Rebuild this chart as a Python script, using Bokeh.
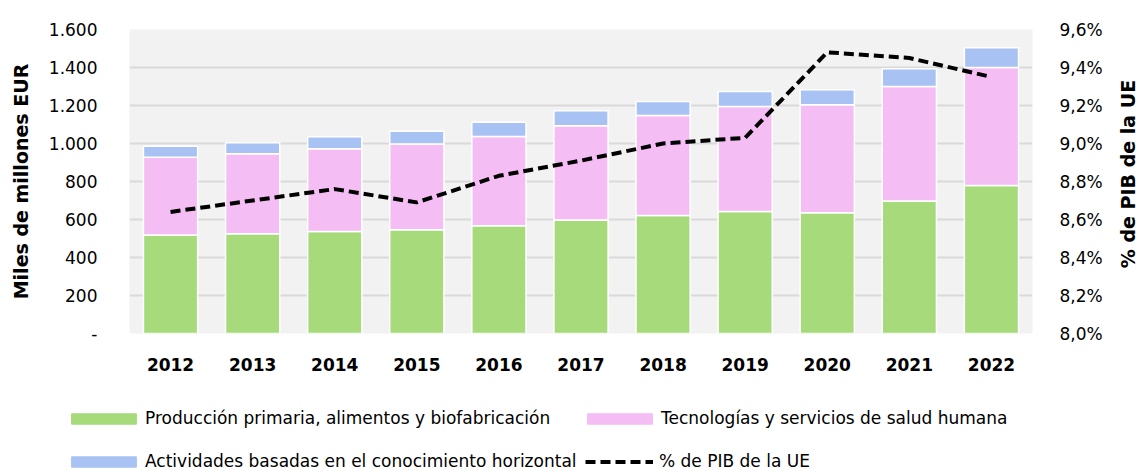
from bokeh.plotting import figure
from bokeh.layouts import column, row
from bokeh.models import (Range1d, LinearAxis, FactorRange, CustomJSTickFormatter,
                          Legend, LegendItem, FixedTicker, ColumnDataSource, Title)
from bokeh.embed import file_html
from bokeh.resources import INLINE

years = ["2012", "2013", "2014", "2015", "2016", "2017", "2018", "2019", "2020", "2021", "2022"]
primaria = [519, 525, 537, 546, 567, 598, 621, 642, 635, 698, 779]
salud = [409, 421, 435, 452, 470, 495, 526, 553, 569, 602, 621]
horizontal = [58, 58, 63, 67, 75, 80, 74, 79, 79, 93, 104]
pct_pib = [8.64, 8.70, 8.76, 8.69, 8.83, 8.91, 9.00, 9.03, 9.48, 9.45, 9.35]

labels = ["Producción primaria, alimentos y biofabricación",
          "Tecnologías y servicios de salud humana",
          "Actividades basadas en el conocimiento horizontal",
          "% de PIB de la UE"]
colors = ["#a6da7b", "#f4bdf4", "#a8c3f3"]
left_ticks = [0, 200, 400, 600, 800, 1000, 1200, 1400, 1600]
right_ticks = [8.0, 8.2, 8.4, 8.6, 8.8, 9.0, 9.2, 9.4, 9.6]

FONT = "DejaVu Sans"

src = ColumnDataSource(dict(year=years, primaria=primaria, salud=salud,
                            horizontal=horizontal, pct=pct_pib))

W, H1, H2, WR = 1105, 380, 91, 37
p = figure(width=W, height=H1, x_range=FactorRange(*years, range_padding=0),
           y_range=Range1d(0, 1600), output_backend="svg", toolbar_location=None,
           min_border_left=129, min_border_right=W - 1041, min_border_top=29,
           min_border_bottom=H1 - 333)
p.extra_y_ranges = {"pct": Range1d(8.0, 9.6)}

bars = p.vbar_stack(["primaria", "salud", "horizontal"], x="year", width=0.66, source=src,
                    color=colors, line_color="white", line_width=1.5)
line = p.line(x="year", y="pct", source=src, y_range_name="pct", line_color="black",
              line_width=4, line_dash="10 5")

p.background_fill_color = "#f2f2f2"
p.border_fill_color = "white"
p.outline_line_color = None
p.xgrid.grid_line_color = None
p.ygrid.grid_line_color = "#d9d9d9"
p.ygrid.grid_line_width = 2
p.ygrid.ticker = FixedTicker(ticks=left_ticks)

ya = p.yaxis[0]
ya.ticker = FixedTicker(ticks=left_ticks)
ya.formatter = CustomJSTickFormatter(code="""
if (tick == 0) return '-';
return Math.round(tick).toString().replace(/\\B(?=(\\d{3})+(?!\\d))/g, '.');
""")
ya.axis_label = "Miles de millones EUR"
ya.axis_label_text_font = FONT
ya.axis_label_text_font_style = "bold"
ya.axis_label_text_font_size = "19px"
ya.axis_label_text_color = "black"
ya.axis_label_standoff = 14
ya.major_label_text_font = FONT
ya.major_label_text_font_size = "17px"
ya.major_label_text_color = "black"
ya.major_label_standoff = 26
ya.axis_line_color = None
ya.major_tick_line_color = None
ya.minor_tick_line_color = None

ra = LinearAxis(y_range_name="pct", ticker=FixedTicker(ticks=right_ticks))
ra.formatter = CustomJSTickFormatter(code="return tick.toFixed(1).replace('.', ',') + '%';")
ra.major_label_text_font = FONT
ra.major_label_text_font_size = "17px"
ra.major_label_text_color = "black"
ra.major_label_standoff = 21
ra.axis_line_color = None
ra.major_tick_line_color = None
ra.minor_tick_line_color = None
p.add_layout(ra, "right")

xa = p.xaxis[0]
xa.major_label_text_font = FONT
xa.major_label_text_font_style = "bold"
xa.major_label_text_font_size = "17px"
xa.major_label_text_color = "black"
xa.major_label_standoff = 18
xa.axis_line_color = None
xa.major_tick_line_color = None
xa.minor_tick_line_color = None

# right-hand axis title (reads bottom-to-top), drawn in a narrow strip figure
rf = figure(width=WR, height=H1, x_range=Range1d(0, 1), y_range=Range1d(0, 1),
            output_backend="svg", toolbar_location=None, x_axis_location=None,
            y_axis_location=None, min_border_left=WR - 4, min_border_right=0,
            min_border_top=14, min_border_bottom=H1 - 333)
rf.outline_line_color = None
rf.grid.grid_line_color = None
rf.add_layout(Title(text="% de PIB de la UE", align="center", standoff=0,
                    text_font=FONT, text_font_size="19px", text_font_style="bold",
                    text_color="black"), "left")

# legend panel: a separate figure below the chart with hidden proxy renderers
lf = figure(width=W, height=H2, x_range=FactorRange(*years), y_range=Range1d(0, 1),
            output_backend="svg", toolbar_location=None, x_axis_location=None,
            y_axis_location=None, min_border=0)
lf.outline_line_color = None
lf.grid.grid_line_color = None
lf.background_fill_color = "white"
proxies = list(lf.vbar_stack(["primaria", "salud", "horizontal"], x="year", width=0.66,
                             source=src, color=colors, visible=False))
proxies.append(lf.line(x="year", y="pct", source=src, line_color="black",
                       line_width=4, line_dash="10 5", visible=False))

specs = [  # location, glyph width, glyph height, label standoff
    ((63, 43), 81, 13, 1),
    ((579, 43), 81, 13, 1),
    ((63, 0), 81, 13, 1),
    ((585, 0), 68, 13, 6),
]
for lab, r, (loc, gw, gh, so) in zip(labels, proxies, specs):
    lg = Legend(items=[LegendItem(label=lab, renderers=[r])], location=loc)
    lg.glyph_width = gw
    lg.glyph_height = gh
    lg.label_standoff = so
    lg.label_height = 20
    lg.padding = 0
    lg.margin = 0
    lg.spacing = 0
    lg.border_line_color = None
    lg.background_fill_alpha = 0
    lg.inactive_fill_alpha = 0
    lg.label_text_font = FONT
    lg.label_text_font_size = "17px"
    lg.label_text_color = "black"
    lf.add_layout(lg)

layout = row(column(p, row(lf), spacing=0), rf, spacing=0)
open("out.html", "w").write(file_html(layout, INLINE))
